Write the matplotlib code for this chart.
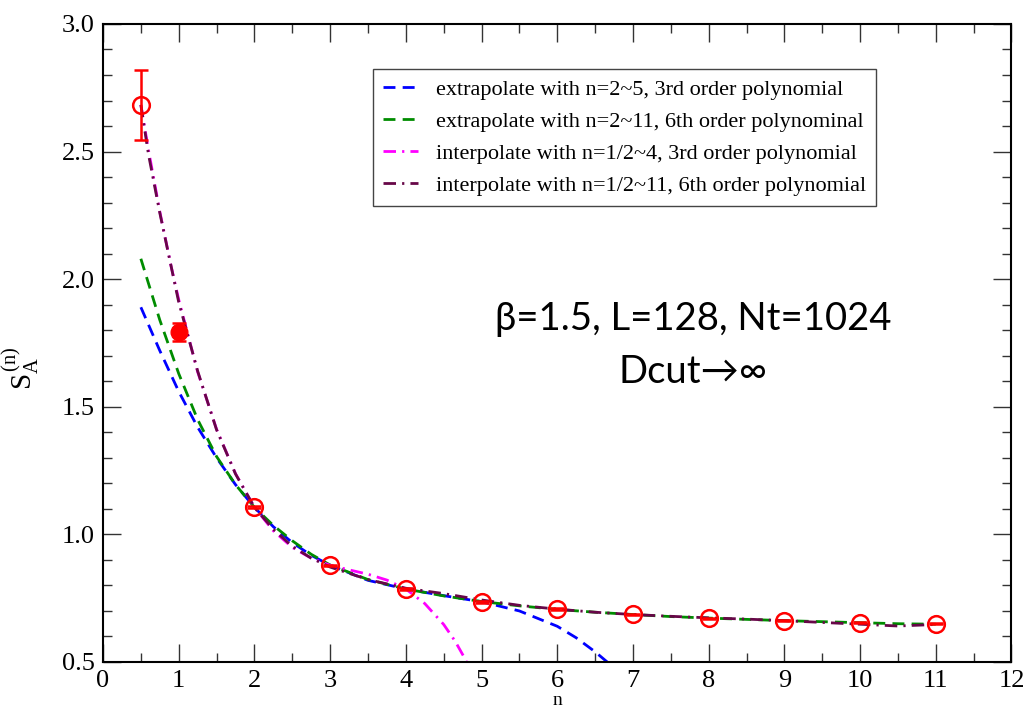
import numpy as np
import matplotlib
matplotlib.use("Agg")
import matplotlib.pyplot as plt
from matplotlib.ticker import MultipleLocator

plt.rcParams['font.family'] = ['Liberation Serif', 'DejaVu Serif']
plt.rcParams['mathtext.fontset'] = 'custom'
plt.rcParams['mathtext.rm'] = 'Liberation Serif'
plt.rcParams['mathtext.it'] = 'Liberation Serif:italic'

# measured points (open circles)
n_pts = [0.5, 2, 3, 4, 5, 6, 7, 8, 9, 10, 11]
s_pts = [2.683, 1.106, 0.879, 0.786, 0.736, 0.708, 0.687, 0.672, 0.662, 0.654, 0.649]
err_pts = [0.137, 0.004, 0.003, 0.003, 0.003, 0.003, 0.002, 0.002, 0.002, 0.002, 0.002]
# n=1 estimate (filled circle)
n_one = [1]
s_one = [1.793]
err_one = [0.035]

# fit curves
blue_x = [0.5, 0.75, 1, 1.25, 1.5, 1.75, 2, 2.25, 2.5, 2.75, 3, 3.5, 4, 4.5, 5, 5.5, 6, 6.25, 6.5, 6.7]
blue_y = [1.89, 1.72, 1.56, 1.42, 1.30, 1.195, 1.106, 1.03, 0.968, 0.918, 0.879, 0.82, 0.786, 0.76,
          0.736, 0.70, 0.64, 0.595, 0.54, 0.49]

green_x = [0.5, 0.75, 1, 1.25, 1.5, 1.75, 2, 2.25, 2.5, 2.75, 3, 3.5, 4, 4.5, 5, 5.5, 6, 6.5, 7,
           7.5, 8, 8.5, 9, 9.5, 10, 10.5, 11]
green_y = [2.08, 1.84, 1.63, 1.45, 1.305, 1.195, 1.106, 1.035, 0.975, 0.922, 0.880, 0.823, 0.786,
           0.759, 0.737, 0.720, 0.706, 0.695, 0.686, 0.678, 0.672, 0.667, 0.662, 0.658, 0.654,
           0.650, 0.648]

magenta_x = [0.5, 0.6, 0.75, 0.9, 1, 1.25, 1.5, 1.75, 2, 2.25, 2.5, 2.75, 3, 3.25, 3.5, 3.75, 4,
             4.25, 4.5, 4.65, 4.8]
magenta_y = [2.683, 2.507, 2.265, 2.05, 1.92, 1.637, 1.412, 1.238, 1.106, 1.014, 0.949, 0.907,
             0.879, 0.861, 0.844, 0.821, 0.786, 0.729, 0.647, 0.582, 0.503]

maroon_x = [0.5, 0.6, 0.75, 0.9, 1, 1.25, 1.5, 1.75, 2, 2.25, 2.5, 2.75, 3, 3.5, 4, 4.5, 5, 5.5,
            6, 6.5, 7, 7.5, 8, 8.5, 9, 9.5, 10, 10.5, 11]
maroon_y = [2.683, 2.49, 2.26, 2.05, 1.91, 1.64, 1.41, 1.237, 1.106, 1.02, 0.953, 0.907, 0.872,
            0.823, 0.789, 0.768, 0.743, 0.722, 0.707, 0.695, 0.686, 0.679, 0.673, 0.668, 0.662,
            0.655, 0.648, 0.641, 0.647]

labels = ["extrapolate with n=2~5, 3rd order polynomial",
          "extrapolate with n=2~11, 6th order polynominal",
          "interpolate with n=1/2~4, 3rd order polynomial",
          "interpolate with n=1/2~11, 6th order polynomial"]

fig = plt.figure(figsize=(10.25, 7.09), dpi=100)
ax = fig.add_axes([0.1005, 0.0663, 0.8863, 0.8999])

dash = (0, (4.3, 2.6))
dashdot = (0, (4.5, 2.2, 0.8, 2.2))
ax.plot(blue_x, blue_y, color='#0000ff', lw=2.0, ls=dash, label=labels[0], zorder=2)
ax.plot(green_x, green_y, color='#008c00', lw=2.0, ls=dash, label=labels[1], zorder=2)
ax.plot(magenta_x, magenta_y, color='#ff00ff', lw=2.0, ls=dashdot, label=labels[2], zorder=2)
ax.plot(maroon_x, maroon_y, color='#670748', lw=2.0, ls=dashdot, label=labels[3], zorder=2)

ax.errorbar(n_pts, s_pts, yerr=err_pts, fmt='o', ms=12, mfc='none', mec='red', mew=1.8,
            ecolor='red', elinewidth=1.8, capsize=5, capthick=1.8, zorder=3)
ax.errorbar(n_one, s_one, yerr=err_one, fmt='o', ms=12, mfc='red', mec='red',
            ecolor='red', elinewidth=1.8, capsize=5, capthick=1.8, zorder=3)

ax.set_xlim(0, 12)
ax.set_ylim(0.5, 3.0)
ax.xaxis.set_major_locator(MultipleLocator(1))
ax.xaxis.set_minor_locator(MultipleLocator(0.5))
ax.yaxis.set_minor_locator(MultipleLocator(0.1))
ax.set_yticks(np.arange(0.5, 3.01, 0.5))
ax.set_yticklabels(['0.5', '1.0', '1.5', '2.0', '2.5', '3.0'])
ax.tick_params(which='both', direction='in', top=True, right=True, labelsize=19, pad=6,
               color='#333333')
ax.tick_params(which='major', length=13, width=1.0)
ax.tick_params(which='minor', length=6.5, width=1.0)
for sp in ax.spines.values():
    sp.set_linewidth(1.5)

ax.set_xlabel('n', fontsize=14, labelpad=0)
ax.set_ylabel(r'$\mathrm{S_A^{\,(n)}}$', fontsize=21)
ax.yaxis.set_label_coords(-0.068, 0.46)

ax.text(7.79, 1.80, 'β=1.5, L=128, Nt=1024', fontsize=27.5, ha='center', va='baseline',
        family=['Lato', 'DejaVu Sans'])
ax.text(7.79, 1.593, 'Dcut→∞', fontsize=27.5, ha='center', va='baseline',
        family=['Lato', 'DejaVu Sans'])

leg = ax.legend(loc='upper left', bbox_to_anchor=(0.297, 0.929), fontsize=16,
                handlelength=1.6, handletextpad=0.8, labelspacing=0.52, borderpad=0.45,
                borderaxespad=0, fancybox=False, framealpha=1, edgecolor='#444444')
leg.get_frame().set_linewidth(1.0)

plt.savefig('out.png', dpi=100)
